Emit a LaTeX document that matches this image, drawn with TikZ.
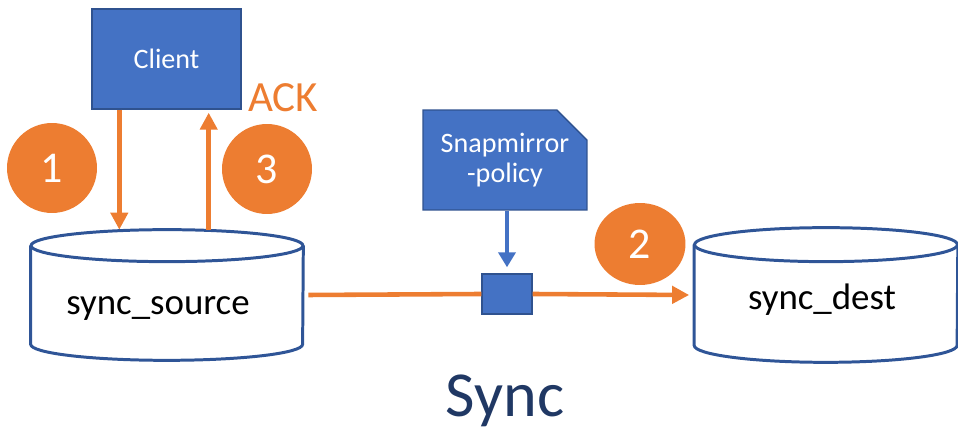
\documentclass[tikz,border=0pt]{standalone}
\usepackage{fontspec}
\setmainfont{Carlito}
\usepackage{tikz}
\usetikzlibrary{arrows.meta,shapes.geometric,shapes.misc,positioning}
\definecolor{boxblue}{HTML}{4472C4}
\definecolor{edgeblue}{HTML}{2F528F}
\definecolor{diskblue}{HTML}{2F5597}
\definecolor{steporange}{HTML}{ED7D31}
\definecolor{titleblue}{HTML}{203864}
\tikzset{>=latex}

\begin{document}
\begin{tikzpicture}[x=0.02cm,y=-0.02cm,
    bluebox/.style={fill=boxblue,draw=edgeblue,line width=0.8pt,text=white,align=center,font=\fontsize{16}{17.5}\selectfont},
    diskline/.style={draw=diskblue,line width=1.7pt},
    badge/.style={circle,fill=steporange,text=white,minimum size=1.8cm,inner sep=0pt,font=\fontsize{25}{30}\selectfont},
    flow/.style={draw=steporange,line width=2.6pt,-{Triangle[length=0.34cm,width=0.34cm]}},
    bflow/.style={draw=boxblue,line width=2.6pt,-{Triangle[length=0.3cm,width=0.34cm]}}]
    \useasboundingbox (0,0) rectangle (958,431);

    % clients and policy
    \node[bluebox,minimum width=2.98cm,minimum height=2cm] (client) at (166.5,59) {Client};
    \node[bluebox,chamfered rectangle,chamfered rectangle corners=north east,chamfered rectangle sep=0.3cm,minimum width=3.28cm,minimum height=2cm,inner sep=0pt] (policy) at (505,160) {Snapmirror\\-policy};
    \node[fill=boxblue,draw=edgeblue,line width=0.8pt,minimum width=1cm,minimum height=0.8cm,inner sep=0pt] (gate) at (507,294) {};

    % volumes
    \node[minimum width=5.44cm,minimum height=2.6cm,inner sep=0pt] (src) at (167,295) {};
    \node[minimum width=5.26cm,minimum height=2.68cm,inner sep=0pt] (dst) at (826,295) {};
    \draw[diskline] ([yshift=-0.32cm]src.north west) -- ([yshift=0.32cm]src.south west)
        arc[start angle=180,end angle=360,x radius=2.72cm,y radius=0.32cm] -- ([yshift=-0.32cm]src.north east);
    \draw[diskline] ([yshift=-0.32cm]src.north) ellipse[x radius=2.72cm,y radius=0.32cm];
    \draw[diskline] ([yshift=-0.34cm]dst.north west) -- ([yshift=0.34cm]dst.south west)
        arc[start angle=180,end angle=360,x radius=2.63cm,y radius=0.34cm] -- ([yshift=-0.34cm]dst.north east);
    \draw[diskline] ([yshift=-0.34cm]dst.north) ellipse[x radius=2.63cm,y radius=0.34cm];
    \node[anchor=base,font=\fontsize{21}{25}\selectfont] (srctext) at (158,315) {sync\_source};
    \node[anchor=base,font=\fontsize{21}{25}\selectfont] (dsttext) at (822,310) {sync\_dest};

    % steps
    \node[badge] (one) at (52,168) {1};
    \node[badge] (three) at (267,169) {3};
    \node[badge,ellipse,minimum width=1.82cm,minimum height=1.64cm] (two) at (640,244) {2};
    \node[anchor=base,text=steporange,font=\fontsize{24.5}{29}\selectfont] (ack) at (283,112) {ACK};

    \coordinate (down) at ([xshift=0.56cm]client.south west);
    \coordinate (up) at ([xshift=-0.66cm,yshift=-0.06cm]client.south east);
    \draw[flow] (down) -- (down |- src.north);
    \draw[flow] (up |- src.north) -- (up);
    \draw[draw=steporange,line width=2.6pt] ([xshift=0.1cm]src.east) -- (gate.west);
    \draw[flow] (gate.east) -- ([xshift=-0.1cm]dst.west);
    \draw[bflow,shorten >=0.12cm] (policy.south -| gate.north) -- (gate.north);

    \node[anchor=base,text=titleblue,font=\fontsize{36.5}{44}\selectfont] (title) at (505,417) {Sync};
\end{tikzpicture}
\end{document}
